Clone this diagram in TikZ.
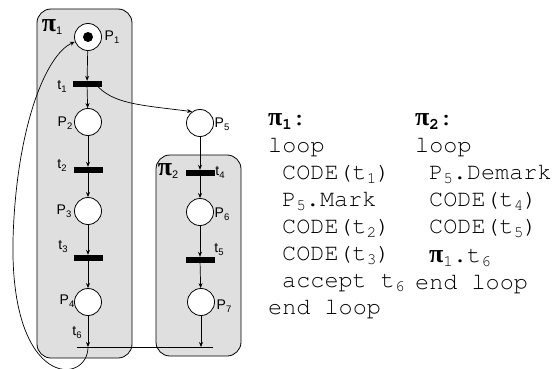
\documentclass[tikz,border=0pt]{standalone}
\usepackage{fontspec}
\setmainfont{Liberation Sans}
\newfontfamily\seriffam{Liberation Serif}
\newcommand\monofam{\fontencoding{T1}\fontfamily{pcr}\fontseries{m}\fontshape{n}\selectfont}
\usetikzlibrary{arrows.meta}
\newcommand\csub[1]{\raisebox{-4pt}{\fontsize{16}{16}\selectfont #1}}
\newcommand\lsub[1]{\raisebox{-3pt}{\fontsize{9.5}{9.5}\selectfont #1}}
\newcommand\bpi{{\fontencoding{TU}\seriffam\bfseries\fontsize{26}{26}\selectfont π}}
\newcommand\npi{{\fontencoding{TU}\seriffam\bfseries\fontsize{26}{26}\selectfont π}}
\begin{document}
\begin{tikzpicture}[x=1pt,y=-1pt,
  place/.style={circle,draw,fill=white,minimum size=27pt,inner sep=0pt,line width=0.8pt},
  trans/.style={fill=black,minimum width=29pt,minimum height=6pt,inner sep=0pt},
  region/.style={draw,fill=gray!25,rounded corners=14pt,line width=0.8pt},
  arc/.style={-{Stealth[length=5pt,width=4pt]},line width=0.7pt},
  lbl/.style={font=\fontsize{14}{14}\selectfont,inner sep=0pt},
  pilbl/.style={inner sep=0pt},
  code/.style={font=\monofam\fontsize{23.5}{27}\selectfont,anchor=base west,inner sep=0pt}
]
\useasboundingbox (0,0) rectangle (554,369);
% regions
\draw[region] (37,9) rectangle (132,358);
\draw[region] (156,155) rectangle (241,356);
\node[pilbl] (pi1) at (52,27) {\npi\lsub{\fontsize{11}{11}\selectfont 1}};
\node[pilbl] (pi2) at (168,171) {\npi\lsub{\fontsize{11}{11}\selectfont 2}};
% places
\node[place] (P1) at (88,37) {};
\fill (P1) circle (5);
\node[place] (P2) at (88,122) {};
\node[place] (P3) at (88,211) {};
\node[place] (P4) at (88,302) {};
\node[place] (P5) at (200,123) {};
\node[place] (P6) at (200,212) {};
\node[place] (P7) at (201,302) {};
% transitions
\node[trans] (t1) at (87,84) {};
\node[trans] (t2) at (88,170) {};
\node[trans] (t3) at (88,258) {};
\node[trans] (t4) at (200,173) {};
\node[trans] (t5) at (200,260) {};
\coordinate (t6a) at (77,347);
\coordinate (t6b) at (213,347);
\coordinate (t6l) at (88,347);
\coordinate (t6r) at (201,347);
\draw[line width=0.8pt] (t6a) -- (t6b);
% labels
\node[lbl] (lP1) at (112,37) {P\lsub{1}};
\node[lbl] (lP2) at (65,123) {P\lsub{2}};
\node[lbl] (lP3) at (64,211) {P\lsub{3}};
\node[lbl] (lP4) at (67,301) {P\lsub{4}};
\node[lbl] (lP5) at (222,124) {P\lsub{5}};
\node[lbl] (lP6) at (222,214) {P\lsub{6}};
\node[lbl] (lP7) at (224,306) {P\lsub{7}};
\node[lbl] (lt1) at (62,86) {t\lsub{1}};
\node[lbl] (lt2) at (62,165) {t\lsub{2}};
\node[lbl] (lt3) at (63,247) {t\lsub{3}};
\node[lbl] (lt4) at (220,172) {t\lsub{4}};
\node[lbl] (lt5) at (219,250) {t\lsub{5}};
\node[lbl] (lt6) at (77,333) {t\lsub{6}};
% arcs
\draw[arc] (P1) -- (t1);
\draw[arc] (t1) -- (P2);
\draw[arc] (P2) -- (t2);
\draw[arc] (t2) -- (P3);
\draw[arc] (P3) -- (t3);
\draw[arc] (t3) -- (P4);
\draw[arc] (P4) -- (t6l);
\draw[arc] (P5) -- (t4);
\draw[arc] (t4) -- (P6);
\draw[arc] (P6) -- (t5);
\draw[arc] (t5) -- (P7);
\draw[arc] (P7) -- (t6r);
\draw[arc] ([xshift=-6pt]t1.east) .. controls (112,104) and (140,105) .. (P5.125);
\draw[arc] (t6l) .. controls (88,385) and (10,390) .. (13,240) .. controls (16,130) and (45,55) .. (P1.200);
% code
\node[code] (a0) at (268,125) {\bpi{\bfseries\csub{1}:}};
\node[code] (a1) at (268,152) {loop};
\node[code] (a2) at (282,179) {CODE(t\csub{1})};
\node[code] (a3) at (282,206) {P\csub{5}.Mark};
\node[code] (a4) at (282,233) {CODE(t\csub{2})};
\node[code] (a5) at (282,260) {CODE(t\csub{3})};
\node[code] (a6) at (282,287) {accept t\csub{6}};
\node[code] (a7) at (268,314) {end loop};
\node[code] (b0) at (415,125) {\bpi{\bfseries\csub{2}:}};
\node[code] (b1) at (415,152) {loop};
\node[code] (b2) at (429,179) {P\csub{5}.Demark};
\node[code] (b3) at (429,206) {CODE(t\csub{4})};
\node[code] (b4) at (429,233) {CODE(t\csub{5})};
\node[code] (b5) at (429,262) {\bpi\csub{1}.t\csub{6}};
\node[code] (b6) at (415,289) {end loop};
\end{tikzpicture}
\end{document}
